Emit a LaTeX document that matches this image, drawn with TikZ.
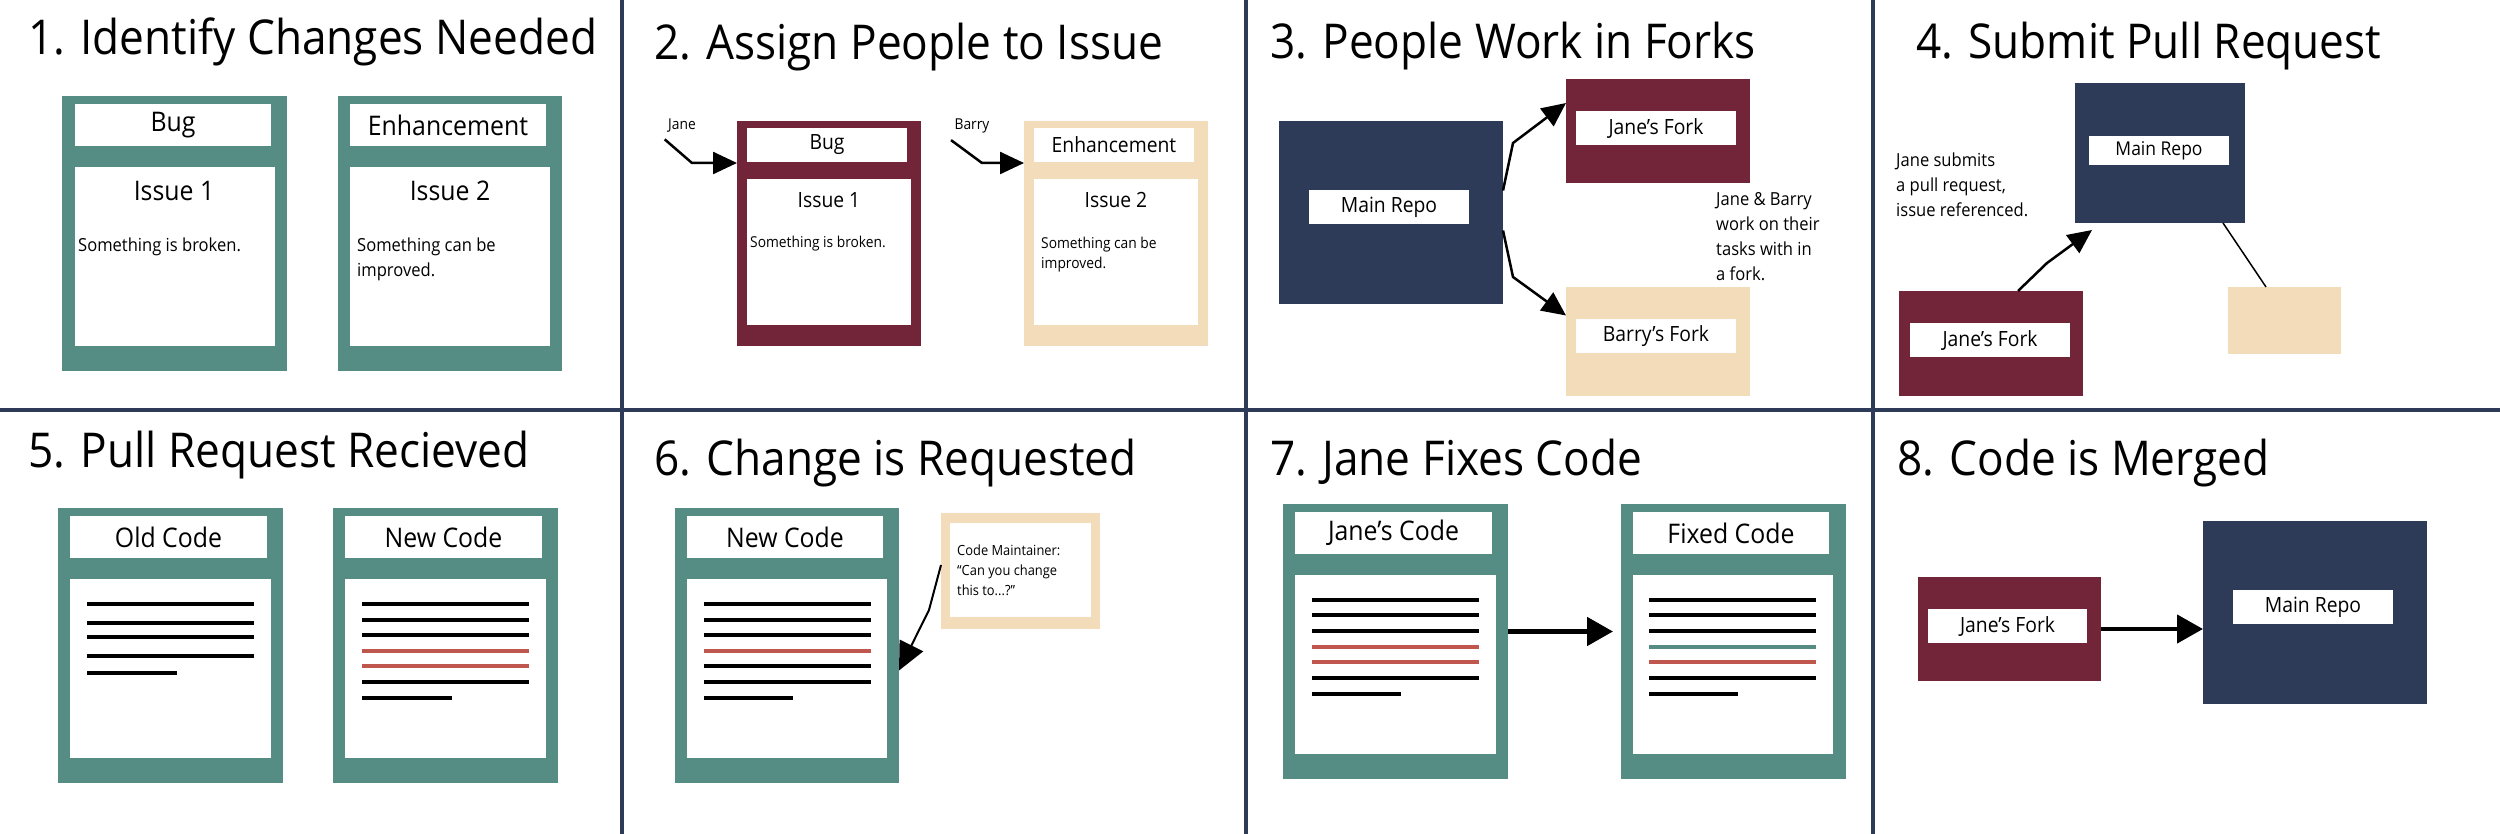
\documentclass[tikz,border=0pt]{standalone}
\usepackage{fontspec}
\setmainfont{Open Sans}[FakeStretch=0.92]
\usetikzlibrary{arrows.meta}
\definecolor{teal}{HTML}{558C83}
\definecolor{maroon}{HTML}{722538}
\definecolor{navy}{HTML}{2D3A58}
\definecolor{beige}{HTML}{F3DCB9}
\definecolor{codered}{HTML}{C0574F}
\newcommand\rbox[7]{\pgfmathsetmacro\rw{#4-#2}\pgfmathsetmacro\rh{#5-#3}%
\node[#6,anchor=north west,minimum width=\rw pt,minimum height=\rh pt,inner sep=0pt,outer sep=0pt] (#1) at (#2,#3) {#7};}
\tikzset{
 title/.style={anchor=base west,inner sep=0pt,font=\fontsize{48}{52}\selectfont},
 wb/.style={fill=white},
 tl/.style={fill=teal}, mr/.style={fill=maroon}, nv/.style={fill=navy}, bg/.style={fill=beige},
 big/.style={font=\fontsize{27}{30}\selectfont},
 mid/.style={font=\fontsize{21}{26}\selectfont},
 small/.style={font=\fontsize{18}{25}\selectfont},
 tiny/.style={font=\fontsize{15}{20}\selectfont},
 txt/.style={anchor=base west,inner sep=0pt,align=left},
 mtxt/.style={anchor=north west,inner sep=0pt,align=left},
 code/.style={line width=3.5pt},
 red/.style={code,draw=codered},
 tealc/.style={code,draw=teal},
 divider/.style={draw=navy,line width=3.5pt},
 arr/.style={line width=3pt,-{Triangle[length=26pt,width=28pt]}},
 arrs/.style={line width=2.5pt,-{Triangle[length=24pt,width=22pt]}},
}
\begin{document}
\begin{tikzpicture}[x=1pt,y=-1pt]
\useasboundingbox (0,0) rectangle (2500,834);
\fill[white] (0,0) rectangle (2500,834);
% dividers
\draw[divider] (622,0) -- (622,834);
\draw[divider] (1246,0) -- (1246,834);
\draw[divider] (1873,0) -- (1873,834);
\draw[divider] (0,410) -- (2500,410);
% titles
\node[title] (t1) at (28,55) {1. Identify Changes Needed};
\node[title] (t2) at (654,60) {2. Assign People to Issue};
\node[title] (t3) at (1270,59) {3. People Work in Forks};
\node[title] (t4) at (1916,59) {4. Submit Pull Request};
\node[title] (t5) at (28,467) {5. Pull Request Recieved};
\node[title] (t6) at (654,475) {6. Change is Requested};
\node[title] (t7) at (1270,475) {7. Jane Fixes Code};
\node[title] (t8) at (1897,475) {8. Code is Merged};
% panel 1
\rbox{c1}{62}{96}{287}{371}{tl}{}
\rbox{c1h}{75}{104}{271}{146}{wb,big}{Bug}
\rbox{c1b}{75}{167}{275}{346}{wb}{}
\node[big,anchor=base] (c1i) at (174,201) {Issue 1};
\node[small,txt] (c1s) at (78,252) {Something is broken.};
\rbox{c2}{338}{96}{562}{371}{tl}{}
\rbox{c2h}{350}{104}{546}{146}{wb,big}{Enhancement}
\rbox{c2b}{350}{167}{550}{346}{wb}{}
\node[big,anchor=base] (c2i) at (450,201) {Issue 2};
\node[small,mtxt] (c2s) at (357,238) {Something can be\\improved.};
% panel 2
\rbox{d1}{737}{121}{921}{346}{mr}{}
\rbox{d1h}{747}{128}{907}{162}{wb,mid}{Bug}
\rbox{d1b}{747}{179}{911}{325}{wb}{}
\node[mid,anchor=base] (d1i) at (829,208) {Issue 1};
\node[tiny,txt] (d1s) at (750,248) {Something is broken.};
\rbox{d2}{1024}{121}{1208}{346}{bg}{}
\rbox{d2h}{1034}{128}{1194}{162}{wb,mid}{Enhancement}
\rbox{d2b}{1034}{179}{1198}{325}{wb}{}
\node[mid,anchor=base] (d2i) at (1116,208) {Issue 2};
\node[tiny,mtxt] (d2s) at (1041,237) {Something can be\\improved.};
\node[tiny,anchor=base] (jane2) at (682,130) {Jane};
\node[tiny,anchor=base] (barry2) at (972,130) {Barry};
\draw[arrs] ([yshift=-3pt]jane2.south west) -- (692,163) -- (d1.west |- 0,163);
\draw[arrs] ([yshift=-3pt]barry2.south west) -- (982,163) -- (d2.west |- 0,163);
% panel 3
\rbox{m3}{1279}{121}{1503}{304}{nv}{}
\rbox{m3l}{1309}{190}{1469}{224}{wb,mid}{Main Repo}
\rbox{j3}{1566}{79}{1750}{183}{mr}{}
\rbox{j3l}{1576}{111}{1736}{145}{wb,mid}{Jane’s Fork}
\rbox{b3}{1566}{287}{1750}{396}{bg}{}
\rbox{b3l}{1576}{319}{1736}{353}{wb,mid}{Barry’s Fork}
\draw[arrs] ([yshift=22pt]m3.east) -- (1513,143) -- ([yshift=28pt]j3.west);
\draw[arrs] ([yshift=-18pt]m3.east) -- (1513,277) -- ([yshift=26pt]b3.west);
\node[small,mtxt] (n3) at (1716,192) {Jane \& Barry\\work on their\\tasks with in\\a fork.};
% panel 4
\rbox{m4}{2075}{83}{2245}{223}{nv}{}
\rbox{m4l}{2089}{136}{2229}{165}{wb,font=\fontsize{19}{22}\selectfont}{Main Repo}
\rbox{j4}{1899}{291}{2083}{396}{mr}{}
\rbox{j4l}{1910}{323}{2070}{357}{wb,mid}{Jane’s Fork}
\rbox{b4}{2228}{287}{2341}{354}{bg}{}
\draw[arrs] ([xshift=27pt]j4.north) -- (2047,263) -- (2092,230);
\draw[line width=1.5pt] ([xshift=148pt]m4.south west) -- ([xshift=38pt]b4.north west);
\node[small,mtxt] (n4) at (1896,153) {Jane submits\\a pull request,\\issue referenced.};
% panel 5
\rbox{e1}{58}{508}{283}{783}{tl}{}
\rbox{e1h}{70}{516}{267}{558}{wb,big}{Old Code}
\rbox{e1b}{70}{579}{271}{758}{wb}{}
\foreach \y in {604,623,637,656} \draw[code] (87,\y) -- (254,\y);
\draw[code] (87,673) -- (177,673);
\rbox{e2}{333}{508}{558}{783}{tl}{}
\rbox{e2h}{345}{516}{542}{558}{wb,big}{New Code}
\rbox{e2b}{345}{579}{546}{758}{wb}{}
\foreach \y in {604,620,635,682} \draw[code] (362,\y) -- (529,\y);
\draw[red] (362,651) -- (529,651);
\draw[red] (362,666) -- (529,666);
\draw[code] (362,698) -- (452,698);
% panel 6
\rbox{f1}{675}{508}{899}{783}{tl}{}
\rbox{f1h}{687}{516}{883}{558}{wb,big}{New Code}
\rbox{f1b}{687}{579}{887}{758}{wb}{}
\foreach \y in {604,620,635,666,682} \draw[code] (704,\y) -- (871,\y);
\draw[red] (704,651) -- (871,651);
\draw[code] (704,698) -- (793,698);
\rbox{f2}{941}{513}{1100}{629}{bg}{}
\rbox{f2w}{950}{523}{1091}{617}{wb}{}
\node[mtxt,font=\fontsize{14}{20}\selectfont] (f2t) at (957,545) {Code Maintainer:\\“Can you change\\this to...?”};
\draw[line width=2pt,-{Triangle[length=28pt,width=26pt]}] ([yshift=-52pt]f2.north west) -- (929,610) -- ([yshift=-25pt]f1.east);
% panel 7
\rbox{g1}{1283}{504}{1508}{779}{tl}{}
\rbox{g1h}{1295}{512}{1492}{554}{wb,big}{Jane’s Code}
\rbox{g1b}{1295}{575}{1496}{754}{wb}{}
\foreach \y in {600,615,631,678} \draw[code] (1312,\y) -- (1479,\y);
\draw[red] (1312,647) -- (1479,647);
\draw[red] (1312,662) -- (1479,662);
\draw[code] (1312,694) -- (1401,694);
\rbox{g2}{1621}{504}{1846}{779}{tl}{}
\rbox{g2h}{1633}{512}{1829}{554}{wb,big}{Fixed Code}
\rbox{g2b}{1633}{575}{1833}{754}{wb}{}
\foreach \y in {600,615,631,678} \draw[code] (1649,\y) -- (1816,\y);
\draw[tealc] (1649,647) -- (1816,647);
\draw[red] (1649,662) -- (1816,662);
\draw[code] (1649,694) -- (1738,694);
\draw[arr,line width=5pt,shorten >=8pt] ([yshift=10pt]g1.east) -- ([yshift=10pt]g2.west);
% panel 8
\rbox{j8}{1918}{577}{2101}{681}{mr}{}
\rbox{j8l}{1928}{609}{2087}{643}{wb,mid}{Jane’s Fork}
\rbox{m8}{2203}{521}{2427}{704}{nv}{}
\rbox{m8l}{2233}{590}{2393}{624}{wb,mid}{Main Repo}
\draw[arr,line width=4.5pt] (j8.east) -- (m8.west |- j8.east);
\end{tikzpicture}
\end{document}
